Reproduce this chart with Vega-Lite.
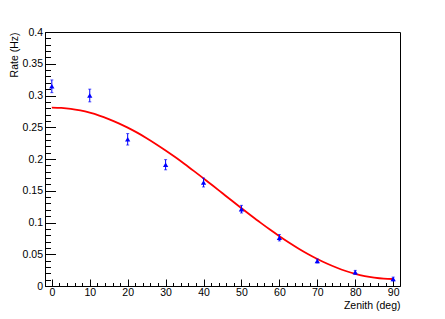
{
  "$schema": "https://vega.github.io/schema/vega-lite/v6.json",
  "width": 355,
  "height": 254,
  "autosize": {"type": "none"},
  "padding": {"left": 45, "top": 32, "right": 45, "bottom": 33},
  "background": "white",
  "config": {
    "view": {"stroke": "black", "strokeWidth": 1},
    "font": "Liberation Sans",
    "axis": {"grid": false, "domainColor": "black", "tickColor": "black", "labelColor": "black", "titleColor": "black", "labelFont": "Liberation Sans", "titleFont": "Liberation Sans", "labelFontSize": 10.5, "titleFontSize": 10.5, "titleFontWeight": "normal", "labelOverlap": false, "labelFlush": false}
  },
  "datasets": {
    "points": [
      {"zenith": 0, "rate": 0.3145, "err": 0.010},
      {"zenith": 10, "rate": 0.300, "err": 0.010},
      {"zenith": 20, "rate": 0.231, "err": 0.009},
      {"zenith": 30, "rate": 0.191, "err": 0.008},
      {"zenith": 40, "rate": 0.163, "err": 0.007},
      {"zenith": 50, "rate": 0.121, "err": 0.006},
      {"zenith": 60, "rate": 0.076, "err": 0.005},
      {"zenith": 70, "rate": 0.0394, "err": 0.003},
      {"zenith": 80, "rate": 0.0216, "err": 0.003},
      {"zenith": 90, "rate": 0.011, "err": 0.003}
    ],
    "fit": [
      {"zenith": 0, "rate": 0.2810}, {"zenith": 2.5, "rate": 0.2805}, {"zenith": 5, "rate": 0.2790},
      {"zenith": 7.5, "rate": 0.2764}, {"zenith": 10, "rate": 0.2729}, {"zenith": 12.5, "rate": 0.2684},
      {"zenith": 15, "rate": 0.2629}, {"zenith": 17.5, "rate": 0.2566}, {"zenith": 20, "rate": 0.2494},
      {"zenith": 22.5, "rate": 0.2415}, {"zenith": 25, "rate": 0.2328}, {"zenith": 27.5, "rate": 0.2234},
      {"zenith": 30, "rate": 0.2135}, {"zenith": 32.5, "rate": 0.2031}, {"zenith": 35, "rate": 0.1922},
      {"zenith": 37.5, "rate": 0.1809}, {"zenith": 40, "rate": 0.1694}, {"zenith": 42.5, "rate": 0.1578},
      {"zenith": 45, "rate": 0.1460}, {"zenith": 47.5, "rate": 0.1342}, {"zenith": 50, "rate": 0.1226},
      {"zenith": 52.5, "rate": 0.1111}, {"zenith": 55, "rate": 0.0998}, {"zenith": 57.5, "rate": 0.0889},
      {"zenith": 60, "rate": 0.0785}, {"zenith": 62.5, "rate": 0.0686}, {"zenith": 65, "rate": 0.0592},
      {"zenith": 67.5, "rate": 0.0505}, {"zenith": 70, "rate": 0.0426}, {"zenith": 72.5, "rate": 0.0354},
      {"zenith": 75, "rate": 0.0291}, {"zenith": 77.5, "rate": 0.0236}, {"zenith": 80, "rate": 0.0191},
      {"zenith": 82.5, "rate": 0.0156}, {"zenith": 85, "rate": 0.0131}, {"zenith": 87.5, "rate": 0.0115},
      {"zenith": 90, "rate": 0.0110}
    ]
  },
  "layer": [
    {
      "data": {"name": "fit"},
      "mark": {"type": "line", "color": "#ff0000", "strokeWidth": 1.8, "interpolate": "monotone", "clip": true},
      "encoding": {
        "x": {"field": "zenith", "type": "quantitative", "title": "Zenith (deg)",
          "scale": {"domain": [-1.8, 91.8], "nice": false, "zero": false},
          "axis": {
            "values": [0,2,4,6,8,10,12,14,16,18,20,22,24,26,28,30,32,34,36,38,40,42,44,46,48,50,52,54,56,58,60,62,64,66,68,70,72,74,76,78,80,82,84,86,88,90],
            "tickCount": 200,
            "labelExpr": "datum.value % 10 == 0 ? format(datum.value, '~g') : ''",
            "labelOverlap": false,
            "tickSize": {"condition": {"test": "datum.value % 10 == 0", "value": -7}, "value": -3.5},
            "labelPadding": 8,
            "titleAnchor": "end", "titleAlign": "right", "titleBaseline": "alphabetic",
            "titleX": 355, "titleY": 22
          }
        },
        "y": {"field": "rate", "type": "quantitative", "title": "Rate (Hz)",
          "scale": {"domain": [0, 0.4], "nice": false, "zero": false},
          "axis": {
            "values": [0,0.01,0.02,0.03,0.04,0.05,0.06,0.07,0.08,0.09,0.1,0.11,0.12,0.13,0.14,0.15,0.16,0.17,0.18,0.19,0.2,0.21,0.22,0.23,0.24,0.25,0.26,0.27,0.28,0.29,0.3,0.31,0.32,0.33,0.34,0.35,0.36,0.37,0.38,0.39,0.4],
            "tickCount": 200,
            "labelExpr": "abs(datum.value*20 - round(datum.value*20)) < 0.001 ? format(datum.value, '~g') : ''",
            "labelOverlap": false,
            "tickSize": {"condition": {"test": "abs(datum.value*20 - round(datum.value*20)) < 0.001", "value": -10.5}, "value": -5.5},
            "labelPadding": 13,
            "titleAngle": -90, "titleAlign": "right", "titleBaseline": "bottom",
            "titleX": -26, "titleY": 0
          }
        }
      }
    },
    {
      "data": {"name": "points"},
      "mark": {"type": "errorbar", "ticks": {"color": "#0000ff", "size": 3}, "rule": {"color": "#0000ff", "strokeWidth": 1}},
      "encoding": {
        "x": {"field": "zenith", "type": "quantitative", "title": "Zenith (deg)"},
        "y": {"field": "rate", "type": "quantitative", "title": "Rate (Hz)"},
        "yError": {"field": "err"}
      }
    },
    {
      "data": {"name": "points"},
      "mark": {"type": "point", "shape": "triangle-up", "filled": true, "color": "#0000ff", "size": 28, "opacity": 1},
      "encoding": {
        "x": {"field": "zenith", "type": "quantitative", "title": "Zenith (deg)"},
        "y": {"field": "rate", "type": "quantitative", "title": "Rate (Hz)"}
      }
    }
  ]
}
